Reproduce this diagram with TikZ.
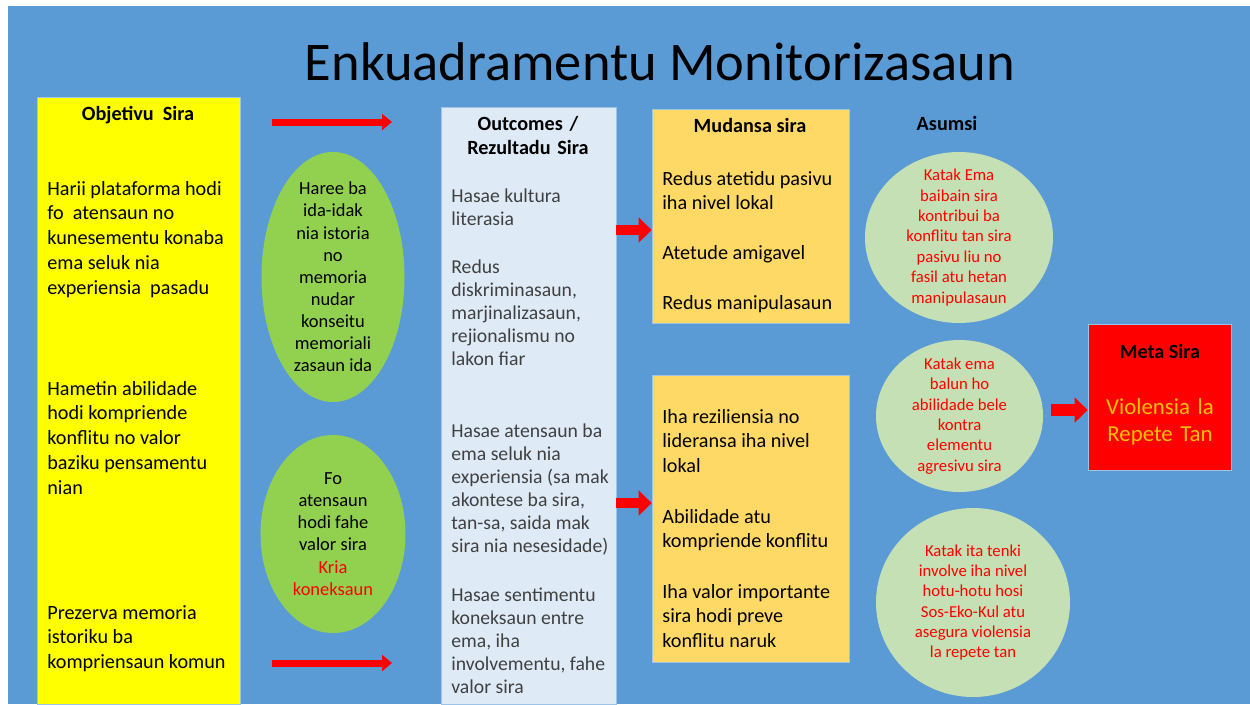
\documentclass[tikz,border=0pt]{standalone}
\usepackage{fontspec}
\setmainfont{Carlito}
\usetikzlibrary{arrows.meta,shapes.geometric}

\definecolor{bgblue}{HTML}{5B9BD5}
\definecolor{objyellow}{HTML}{FFFF00}
\definecolor{outblue}{HTML}{DEEBF7}
\definecolor{mudorange}{HTML}{FFD966}
\definecolor{elgreen}{HTML}{92D050}
\definecolor{asgreen}{HTML}{C5E0B4}
\definecolor{metared}{HTML}{FF0000}
\definecolor{metaorange}{HTML}{FFC000}
\definecolor{outgray}{HTML}{404040}
\definecolor{boxline}{HTML}{9DC3E6}

\tikzset{
  box/.style={draw=boxline, line width=0.5pt, inner sep=0pt},
  blob/.style={ellipse, inner sep=0pt},
  head/.style={anchor=base, inner sep=0pt, font=\bfseries\fontsize{11.5}{14.2}\selectfont},
  objtext/.style={anchor=base west, inner sep=0pt, text width=3.9cm, align=flush left,
    font=\fontsize{11.5}{14.2}\selectfont},
  outtext/.style={anchor=base west, inner sep=0pt, text width=3.4cm, align=flush left,
    text=outgray, font=\fontsize{11.2}{13.2}\selectfont},
  blobtext/.style={inner sep=0pt, align=center, font=\fontsize{10.5}{12.6}\selectfont},
  asutext/.style={inner sep=0pt, align=center, text=metared, font=\fontsize{9.5}{11.6}\selectfont},
  thinarrow/.style={metared, line width=0.14cm, -{Triangle[length=0.2cm,width=0.32cm]}},
  fatarrow/.style={metared, line width=0.2cm, -{Triangle[length=0.26cm,width=0.5cm]}},
}

\begin{document}
\begin{tikzpicture}
  \useasboundingbox (0,0) rectangle (25,-14.08);
  \fill[white] (0,0) rectangle (25,-14.08);
  \fill[bgblue] (0.16,-0.12) rectangle (25,-14.08);
  % Title
  \node[anchor=base, inner sep=0pt, font=\fontsize{31}{36}\selectfont] (title) at (13.2,-1.6) {Enkuadramentu Monitorizasaun};

  % Boxes
  \node[box, fill=objyellow, minimum width=4.06cm, minimum height=12.14cm] (obj) at (2.77,-8.01) {};
  \node[box, fill=outblue, minimum width=3.5cm, minimum height=11.94cm] (out) at (10.57,-8.11) {};
  \node[box, fill=mudorange, minimum width=3.94cm, minimum height=4.28cm] (mud1) at (15.01,-4.32) {};
  \node[box, fill=mudorange, minimum width=3.94cm, minimum height=5.74cm] (mud2) at (15.01,-10.37) {};
  \node[box, fill=metared, minimum width=2.86cm, minimum height=2.92cm] (meta) at (23.19,-7.94) {};

  % Ellipses
  \node[blob, fill=elgreen, minimum width=2.86cm, minimum height=5cm] (e1) at (6.66,-5.54) {};
  \node[blob, fill=elgreen, minimum width=2.9cm, minimum height=3.96cm] (e2) at (6.66,-10.68) {};
  \node[blob, fill=asgreen, minimum width=3.76cm, minimum height=3.42cm] (a1) at (19.18,-4.75) {};
  \node[blob, fill=asgreen, minimum width=3.34cm, minimum height=3.04cm] (a2) at (19.19,-8.32) {};
  \node[blob, fill=asgreen, minimum width=3.88cm, minimum height=3.78cm] (a3) at (19.46,-12.05) {};

  % Objetivu
  \node[head] (objhead) at (2.76,-2.4) {Objetivu\ \ Sira};
  \node[objtext] (obj1) at (0.94,-3.9) {Harii plataforma hodi\\fo\ \ atensaun no\\kunesementu konaba\\ema seluk nia\\experiensia\ \ pasadu};
  \node[objtext] (obj2) at (0.94,-7.9) {Hametin abilidade\\hodi kompriende\\konflitu no valor\\baziku pensamentu\\nian};
  \node[objtext] (obj3) at (0.94,-12.38) {Prezerva memoria\\istoriku ba\\kompriensaun komun};

  % Outcomes
  \node[head, text width=3.4cm, align=center] (outhead) at (10.56,-2.6) {Outcomes /\\Rezultadu Sira};
  \node[outtext] (out1) at (9.02,-4.04) {Hasae kultura\\literasia};
  \node[outtext] (out2) at (9.02,-5.46) {Redus\\diskriminasaun,\\marjinalizasaun,\\rejionalismu no\\lakon fiar};
  \node[outtext] (out3) at (9.02,-8.74) {Hasae atensaun ba\\ema seluk nia\\experiensia (sa mak\\akontese ba sira,\\tan-sa, saida mak\\sira nia nesesidade)};
  \node[outtext] (out4) at (9.02,-12.02) {Hasae sentimentu\\koneksaun entre\\ema, iha\\involvementu, fahe\\valor sira};

  % Mudansa
  \node[head] (mudhead) at (15.0,-2.64) {Mudansa sira};
  \node[objtext] (mud11) at (13.24,-3.7) {Redus atetidu pasivu\\iha nivel lokal};
  \node[objtext] (mud12) at (13.24,-5.18) {Atetude amigavel};
  \node[objtext] (mud13) at (13.24,-6.18) {Redus manipulasaun};
  \node[objtext] (mud21) at (13.24,-8.46) {Iha reziliensia no\\lideransa iha nivel\\lokal};
  \node[objtext] (mud22) at (13.24,-10.46) {Abilidade atu\\kompriende konflitu};
  \node[objtext] (mud23) at (13.24,-11.96) {Iha valor importante\\sira hodi preve\\konflitu naruk};

  % Ellipse texts
  \node[blobtext] (e1t) at (e1) {Haree ba\\ida-idak\\nia istoria\\no\\memoria\\nudar\\konseitu\\memoriali\\zasaun ida};
  \node[blobtext] (e2t) at (e2) {Fo\\atensaun\\hodi fahe\\valor sira\\\textcolor{metared}{Kria}\\\textcolor{metared}{koneksaun}};

  % Asumsi
  \node[head] (asuhead) at (18.94,-2.6) {Asumsi};
  \node[asutext] (a1t) at (a1) {Katak Ema\\baibain sira\\kontribui ba\\konflitu tan sira\\pasivu liu no\\fasil atu hetan\\manipulasaun};
  \node[asutext] (a2t) at (a2) {Katak ema\\balun ho\\abilidade bele\\kontra\\elementu\\agresivu sira};
  \node[asutext] (a3t) at (a3) {Katak ita tenki\\involve iha nivel\\hotu-hotu hosi\\Sos-Eko-Kul atu\\asegura violensia\\la repete tan};

  % Meta
  \node[head] (metahead) at (23.2,-7.16) {Meta Sira};
  \node[anchor=base, inner sep=0pt, text width=2.8cm, align=center, text=metaorange,
    font=\fontsize{13}{15.9}\selectfont] (metatext) at (23.2,-8.28) {Violensia la\\Repete Tan};

  % Arrows
  \coordinate (t0) at (5.44,-2.44);
  \coordinate (t1) at (7.84,-2.44);
  \coordinate (b0) at (5.44,-13.26);
  \coordinate (b1) at (7.84,-13.26);
  \coordinate (k1) at (0,-4.6);
  \coordinate (k2) at (0,-10.06);
  \coordinate (m0) at (21.02,-8.2);
  \draw[thinarrow] (t0) -- (t1);
  \draw[thinarrow] (b0) -- (b1);
  \draw[fatarrow] (out.east |- k1) -- (mud1.west |- k1);
  \draw[fatarrow] (out.east |- k2) -- (mud2.west |- k2);
  \draw[fatarrow, line width=0.24cm] (m0) -- (m0 -| meta.west);
\end{tikzpicture}
\end{document}
